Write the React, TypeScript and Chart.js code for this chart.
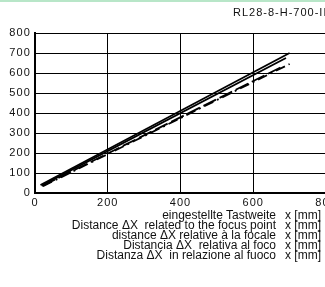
import React, { useEffect, useRef } from "react";
import { Chart, registerables } from "chart.js";

Chart.register(...registerables);

const titleText = "RL28-8-H-700-IR";
const xTicks = [0, 200, 400, 600, 800];
const yTicks = [0, 100, 200, 300, 400, 500, 600, 700, 800];

const lineAX = [15, 700];
const lineAY = [40, 700];
const lineBX = [18, 690];
const lineBY = [37, 675];
const lineCX = [20, 680];
const lineCY = [35, 632];
const lineDX = [22, 700];
const lineDY = [34, 645];

const axisLabelLines = [
  "eingestellte Tastweite",
  "Distance \u0394X  related to the focus point",
  "distance \u0394X relative \u00e0 la focale",
  "Distancia \u0394X  relativa al foco",
  "Distanza \u0394X  in relazione al fuoco",
];
const unitLabel = "x [mm]";

const toPts = (xs: number[], ys: number[]) => xs.map((x, i) => ({ x, y: ys[i] }));

const spacingPlugin = {
  id: "spacing",
  beforeDraw(chart: any) {
    try {
      chart.ctx.letterSpacing = "1.1px";
    } catch (e) {}
  },
};

export default function App() {
  const ref = useRef<HTMLCanvasElement | null>(null);
  useEffect(() => {
    if (!ref.current) return;
    const base = {
      borderColor: "#000",
      borderWidth: 1.8,
      pointRadius: 0,
      showLine: true,
      fill: false,
    };
    const chart = new Chart(ref.current, {
      type: "scatter",
      data: {
        datasets: [
          { ...base, data: toPts(lineAX, lineAY) },
          { ...base, data: toPts(lineBX, lineBY) },
          { ...base, data: toPts(lineCX, lineCY), borderDash: [14, 4] },
          { ...base, data: toPts(lineDX, lineDY), borderDash: [10, 4, 2, 4] },
        ],
      },
      plugins: [spacingPlugin],
      options: {
        animation: false,
        responsive: false,
        maintainAspectRatio: false,
        layout: { padding: { left: 0, right: 24, top: 33, bottom: 0 } },
        plugins: { legend: { display: false }, tooltip: { enabled: false }, title: { display: false } },
        scales: {
          x: {
            type: "linear",
            min: 0,
            max: 800,
            afterBuildTicks: (s: any) => {
              s.ticks = xTicks.map((v) => ({ value: v }));
            },
            afterFit: (s: any) => {
              s.height = 94;
            },
            ticks: { color: "#111", font: { family: "Liberation Sans", size: 11 }, padding: 3, maxRotation: 0 },
            grid: { color: "#000", lineWidth: 1, drawTicks: false },
            border: { color: "#000", width: 2 },
          },
          y: {
            type: "linear",
            min: 0,
            max: 800,
            afterBuildTicks: (s: any) => {
              s.ticks = yTicks.map((v) => ({ value: v }));
            },
            afterFit: (s: any) => {
              s.width = 35;
            },
            ticks: { color: "#111", font: { family: "Liberation Sans", size: 11 }, padding: 4 },
            grid: { color: "#000", lineWidth: 1, drawTicks: false },
            border: { color: "#000", width: 2 },
          },
        },
      },
    });
    return () => chart.destroy();
  }, []);

  const font = "12px 'Liberation Sans', Arial, sans-serif";
  return (
    <div
      style={{
        position: "fixed",
        left: 0,
        top: 0,
        width: 325,
        height: 287,
        overflow: "hidden",
        background: "#fff",
      }}
    >
      <div style={{ position: "absolute", left: 0, top: 0, width: 325, height: 2, background: "#b8e6c8" }} />
      <canvas ref={ref} width={350} height={287} style={{ position: "absolute", left: 0, top: 0 }} />
      <div
        style={{
          position: "absolute",
          left: 233,
          top: 6,
          font: "11px 'Liberation Sans', Arial, sans-serif",
          letterSpacing: "1px",
          color: "#111",
          whiteSpace: "nowrap",
        }}
      >
        {titleText}
      </div>
      {axisLabelLines.map((t, i) => (
        <React.Fragment key={i}>
          <div
            style={{
              position: "absolute",
              right: 325 - 276,
              top: 209 + i * 10,
              font,
              lineHeight: "13px",
              color: "#111",
              whiteSpace: "pre",
              textAlign: "right",
            }}
          >
            {t}
          </div>
          <div
            style={{
              position: "absolute",
              left: 285,
              top: 209 + i * 10,
              font,
              lineHeight: "13px",
              color: "#111",
              whiteSpace: "pre",
            }}
          >
            {unitLabel}
          </div>
        </React.Fragment>
      ))}
    </div>
  );
}
